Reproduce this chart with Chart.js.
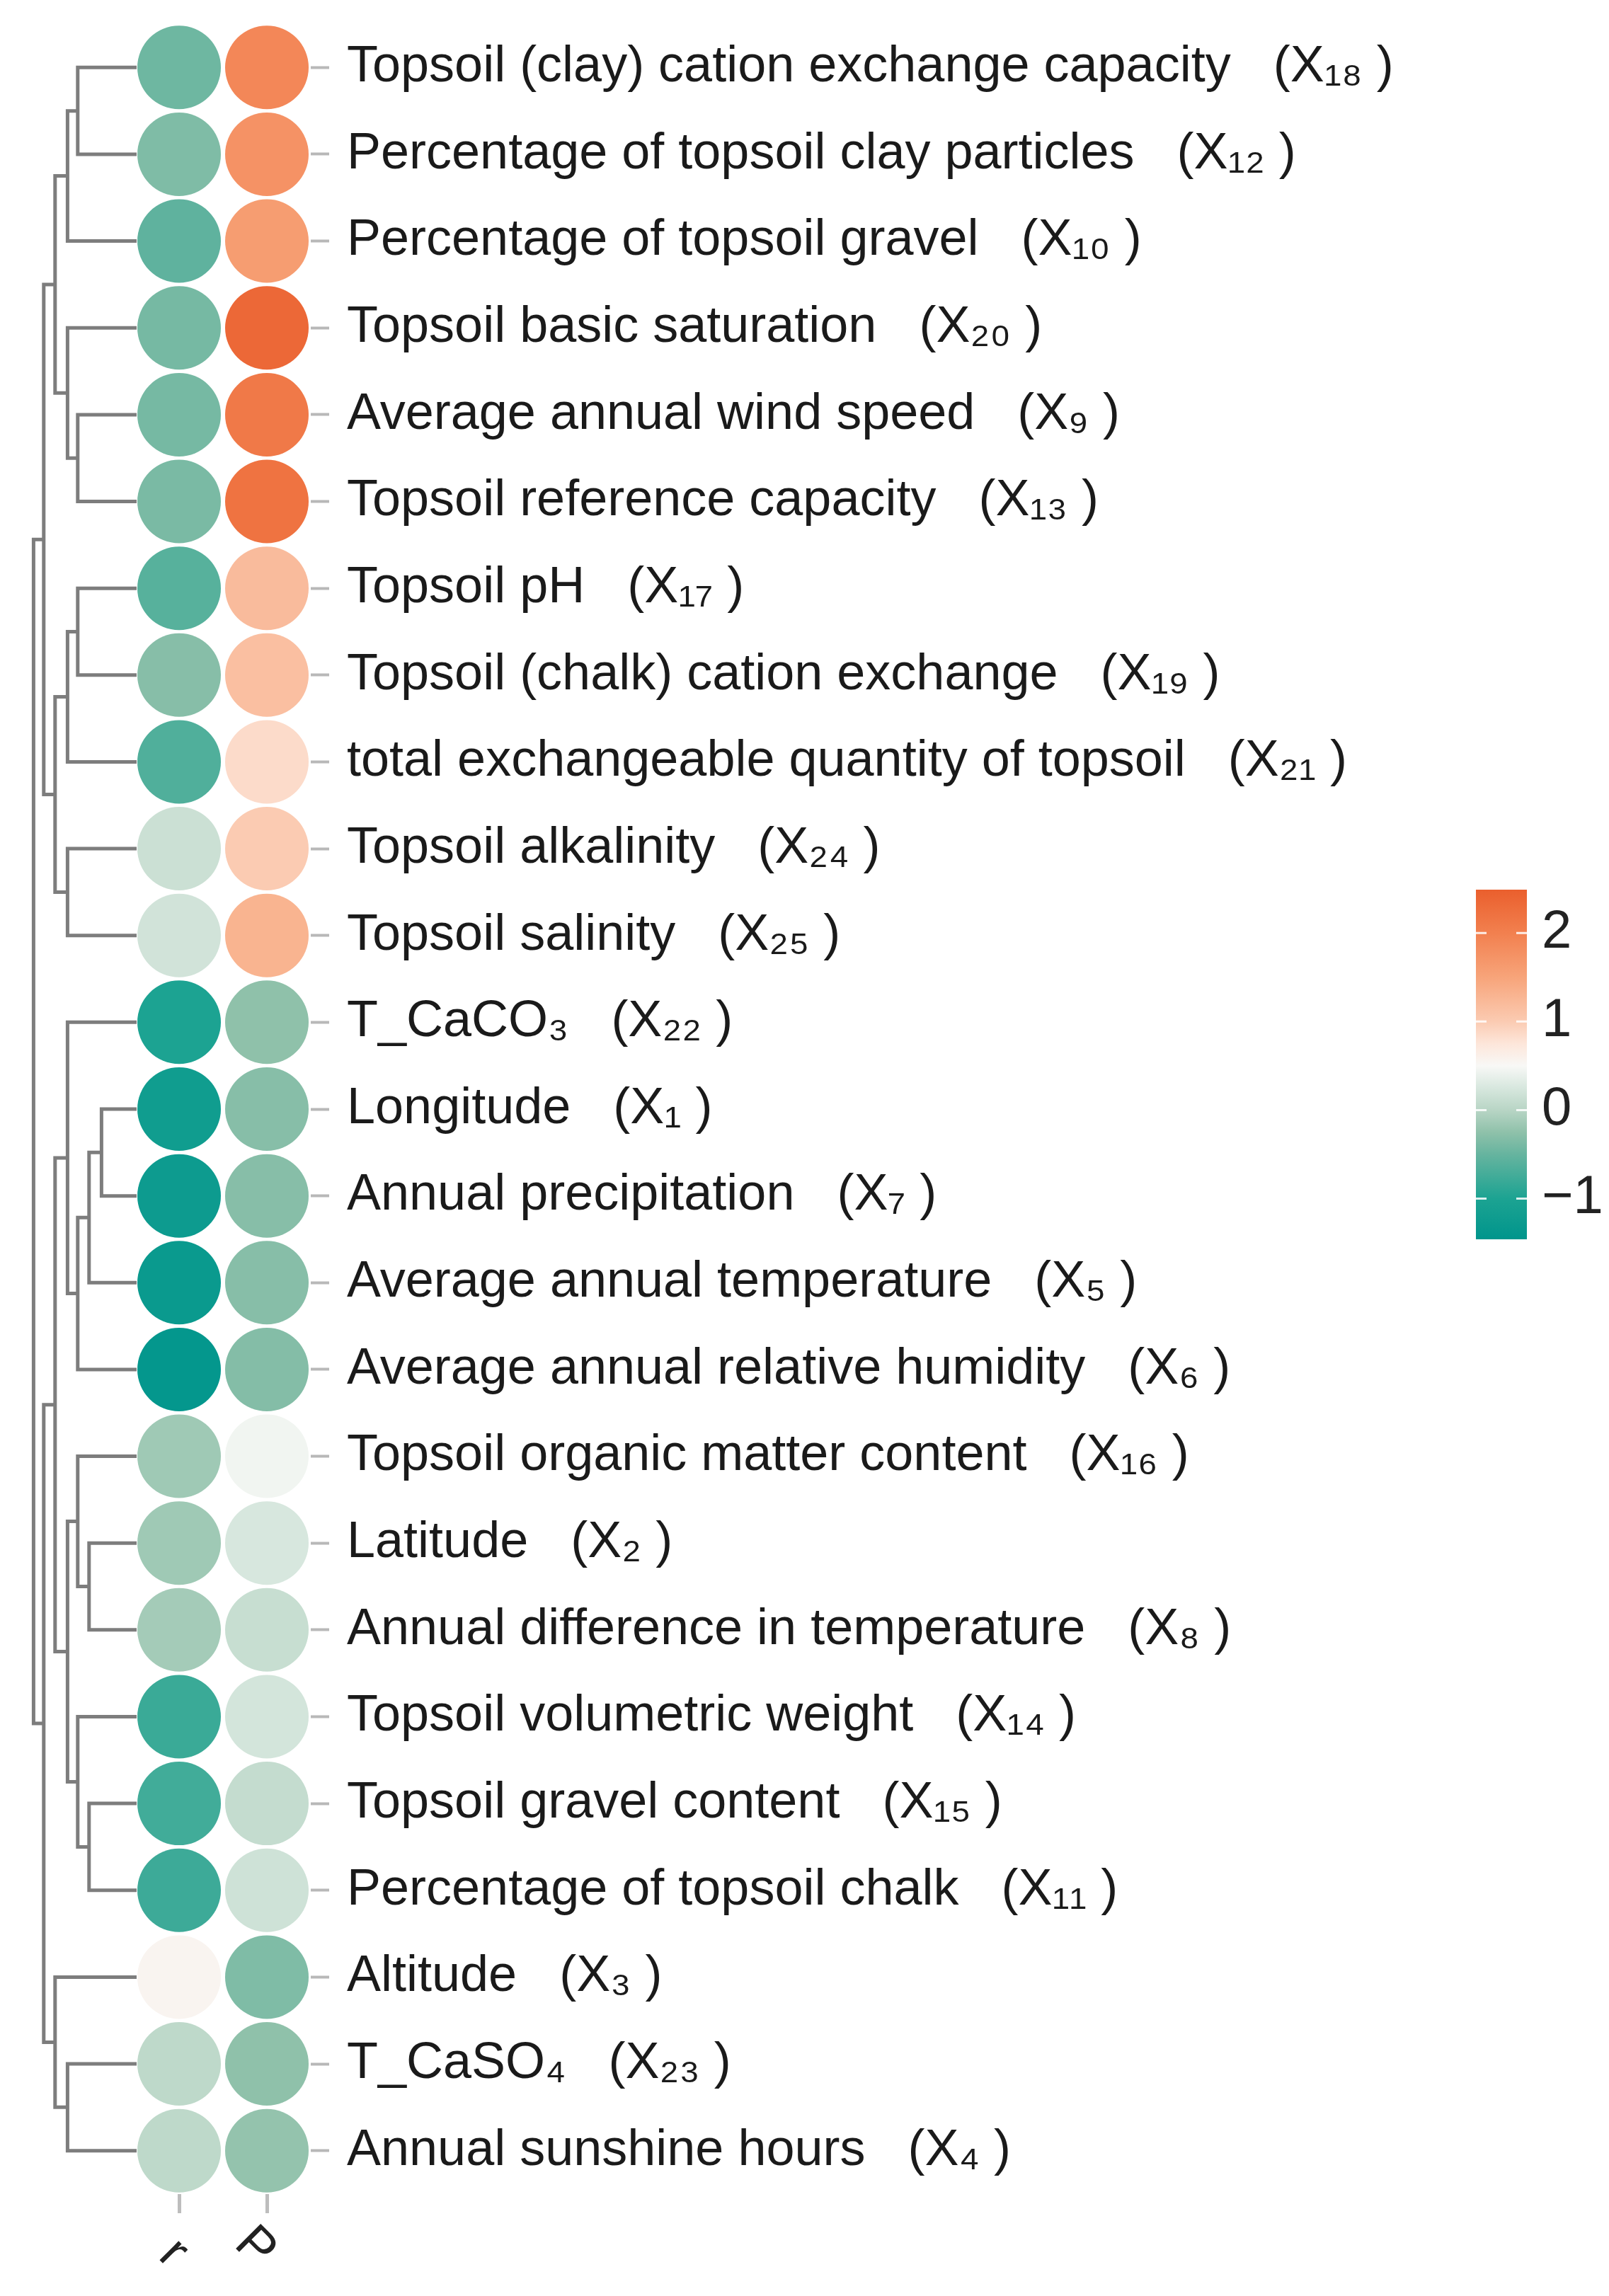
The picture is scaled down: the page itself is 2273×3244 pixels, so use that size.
<!DOCTYPE html>
<html>
<head>
<meta charset="utf-8">
<script src="https://cdn.jsdelivr.net/npm/chart.js@4.4.1/dist/chart.umd.min.js"></script>
<style>
  html, body { margin: 0; padding: 0; background: #ffffff; }
  #wrap { position: relative; width: 2273px; height: 3244px; }
  canvas { position: absolute; }
</style>
</head>
<body>
<div id="wrap">
  <canvas id="heat" width="2273" height="3244" style="left:0;top:0"></canvas>
  <canvas id="scale" width="188" height="600" style="left:2085px;top:1205px"></canvas>
</div>
<script>
const FONT = "'Liberation Sans', Arial, sans-serif";

// rows, top to bottom
const variables = [
  'Topsoil (clay) cation exchange capacity', 'Percentage of topsoil clay particles',
  'Percentage of topsoil gravel', 'Topsoil basic saturation', 'Average annual wind speed',
  'Topsoil reference capacity', 'Topsoil pH', 'Topsoil (chalk) cation exchange',
  'total exchangeable quantity of topsoil', 'Topsoil alkalinity', 'Topsoil salinity',
  'T_CaCO\u2083', 'Longitude', 'Annual precipitation', 'Average annual temperature',
  'Average annual relative humidity', 'Topsoil organic matter content', 'Latitude',
  'Annual difference in temperature', 'Topsoil volumetric weight', 'Topsoil gravel content',
  'Percentage of topsoil chalk', 'Altitude', 'T_CaSO\u2084', 'Annual sunshine hours'
];
const codes = [
  'X\u2081\u2088', 'X\u2081\u2082', 'X\u2081\u2080', 'X\u2082\u2080', 'X\u2089',
  'X\u2081\u2083', 'X\u2081\u2087', 'X\u2081\u2089', 'X\u2082\u2081', 'X\u2082\u2084',
  'X\u2082\u2085', 'X\u2082\u2082', 'X\u2081', 'X\u2087', 'X\u2085',
  'X\u2086', 'X\u2081\u2086', 'X\u2082', 'X\u2088', 'X\u2081\u2084',
  'X\u2081\u2085', 'X\u2081\u2081', 'X\u2083', 'X\u2082\u2083', 'X\u2084'
];
const columns = ['r', 'P'];

const rValues = [
  -0.45, -0.35, -0.55, -0.40, -0.40, -0.38, -0.60, -0.30, -0.65, 0.15, 0.20,
  -1.00, -1.20, -1.25, -1.30, -1.40, -0.15, -0.15, -0.12, -0.80, -0.75, -0.78,
  0.55, 0.05, 0.05
];
const pValues = [
  1.90, 1.75, 1.60, 2.35, 2.10, 2.20, 1.20, 1.15, 0.85, 1.00, 1.30,
  -0.25, -0.30, -0.30, -0.30, -0.32, 0.45, 0.25, 0.12, 0.22, 0.10, 0.18,
  -0.35, -0.25, -0.22
];

// hclust-style merge table: negative = leaf (row number), positive = earlier merge
const mergeA = [-1, 1, -5, -4, 2, -7, 6, -10, 7, 5, -13, 11, 12, -12, -18, -17, -21, -20, 16, 14, -24, -23, 20, 10];
const mergeB = [-2, -3, -6, 3, 4, -8, -9, -11, 8, 9, -14, -15, -16, 13, -19, 15, -22, 17, 18, 19, -25, 21, 22, 23];
const mergeHeight = [5.2, 6.1, 5.2, 6.1, 7.2, 5.2, 6.1, 6.1, 7.2, 8.2, 3.1, 4.2, 5.2, 6.1, 4.2, 5.2, 4.2, 5.2, 6.1, 7.2, 6.1, 7.2, 8.2, 9.1];

const scaleMin = -1.46;
const scaleMax = 2.49;
const scaleTicks = [-1, 0, 1, 2];
const colourStops = [
  [-1.46, '#00958c'], [-1.0, '#1ca392'], [-0.5, '#66b49f'], [-0.25, '#8fc1aa'],
  [0.0, '#b8d5c5'], [0.25, '#d7e7de'], [0.5, '#f8f8f6'], [0.75, '#fde6da'],
  [1.0, '#fbcbb2'], [1.5, '#f7a47a'], [2.0, '#f2804f'], [2.49, '#ea5f2d']
];

function hexRgb(h) {
  return [1, 3, 5].map(i => parseInt(h.slice(i, i + 2), 16));
}

function colourFor(v) {
  if (v <= colourStops[0][0]) return colourStops[0][1];
  for (let i = 1; i < colourStops.length; i++) {
    const [v1, c1] = colourStops[i];
    if (v <= v1) {
      const [v0, c0] = colourStops[i - 1];
      const t = (v - v0) / (v1 - v0);
      const a = hexRgb(c0), b = hexRgb(c1);
      const m = a.map((x, k) => Math.round(x + (b[k] - x) * t));
      return `rgb(${m[0]},${m[1]},${m[2]})`;
    }
  }
  return colourStops[colourStops.length - 1][1];
}

// keep the chart area where we put it, labels may overhang
const noPadding = s => {
  s.paddingTop = 0;
  s.paddingBottom = 0;
  s.paddingLeft = 0;
  s.paddingRight = 0;
};

// dendrogram: one bracket per merge
const nodes = [];
const place = ref => (ref < 0 ? { h: 0, y: -ref - 1 } : nodes[ref - 1]);
const dendroSets = mergeA.map((a, k) => {
  const l = place(a);
  const r = place(mergeB[k]);
  const h = mergeHeight[k];
  nodes.push({ h, y: (l.y + r.y) / 2 });
  return {
    data: [{ x: l.h, y: l.y }, { x: h, y: l.y }, { x: h, y: r.y }, { x: r.h, y: r.y }],
    xAxisID: 'xd',
    showLine: true,
    pointRadius: 0,
    borderColor: '#7d7d7d',
    borderWidth: 5,
    borderJoinStyle: 'miter',
    borderCapStyle: 'butt',
    order: 2
  };
});

const circleSet = (vals, col) => ({
  data: vals.map((v, i) => ({ x: col, y: i })),
  xAxisID: 'x',
  pointRadius: 59,
  pointHoverRadius: 59,
  pointBackgroundColor: vals.map(colourFor),
  pointBorderWidth: 0,
  clip: false,
  order: 1
});

new Chart(document.getElementById('heat'), {
  type: 'scatter',
  data: { datasets: [...dendroSets, circleSet(rValues, 0), circleSet(pValues, 1)] },
  options: {
    responsive: false,
    animation: false,
    devicePixelRatio: 1,
    events: [],
    layout: { autoPadding: false, padding: { left: 40, top: 34, right: 0, bottom: 0 } },
    plugins: { legend: { display: false }, tooltip: { enabled: false } },
    scales: {
      x: {
        type: 'linear',
        position: 'bottom',
        min: -1.718,
        max: 1.5,
        afterBuildTicks: s => { s.ticks = columns.map((_, i) => ({ value: i })); },
        afterFit: s => { s.height = 144; noPadding(s); },
        border: { display: false },
        grid: { drawOnChartArea: false, tickLength: 27, tickWidth: 5, tickColor: '#bdbdbd' },
        ticks: {
          callback: v => columns[v],
          minRotation: -45,
          maxRotation: -45,
          padding: 58,
          color: '#222222',
          font: { family: FONT, size: 72, lineHeight: 0.3 }
        }
      },
      xd: { type: 'linear', display: false, reverse: true, min: -15.375, max: 9.5625 },
      y: {
        type: 'linear',
        position: 'right',
        reverse: true,
        min: -0.5,
        max: variables.length - 0.5,
        afterBuildTicks: s => { s.ticks = variables.map((_, i) => ({ value: i })); },
        afterFit: s => { s.width = 1834; noPadding(s); },
        border: { display: false },
        grid: { drawOnChartArea: false, tickLength: 26, tickWidth: 4, tickColor: '#b8b8b8' },
        ticks: {
          autoSkip: false,
          padding: 25,
          color: '#1a1a1a',
          font: { family: FONT, size: 72 },
          callback: v => variables[v] + '   (' + codes[v] + ' )'
        }
      }
    }
  }
});

function barGradient(chart) {
  const { ctx, chartArea, scales } = chart;
  if (!chartArea) return colourStops[0][1];
  const y = scales.y;
  const g = ctx.createLinearGradient(0, y.getPixelForValue(scaleMin), 0, y.getPixelForValue(scaleMax));
  colourStops.forEach(([v, c]) => g.addColorStop((v - scaleMin) / (scaleMax - scaleMin), c));
  return g;
}

const tickMarks = {
  id: 'tickMarks',
  afterDatasetsDraw(chart) {
    const { ctx, chartArea: a, scales: { y } } = chart;
    ctx.save();
    ctx.strokeStyle = 'rgba(255,255,255,0.85)';
    ctx.lineWidth = 3;
    scaleTicks.forEach(v => {
      const py = y.getPixelForValue(v);
      ctx.beginPath();
      ctx.moveTo(a.left, py);
      ctx.lineTo(a.left + 15, py);
      ctx.moveTo(a.right - 15, py);
      ctx.lineTo(a.right, py);
      ctx.stroke();
    });
    ctx.restore();
  }
};

new Chart(document.getElementById('scale'), {
  type: 'bar',
  data: {
    labels: [''],
    datasets: [{
      data: [[scaleMin, scaleMax]],
      backgroundColor: ctx => barGradient(ctx.chart),
      borderWidth: 0,
      barPercentage: 1,
      categoryPercentage: 1
    }]
  },
  options: {
    responsive: false,
    animation: false,
    devicePixelRatio: 1,
    events: [],
    layout: { autoPadding: false, padding: { top: 52, bottom: 54, left: 0, right: 0 } },
    plugins: { legend: { display: false }, tooltip: { enabled: false } },
    scales: {
      x: { display: false },
      y: {
        position: 'right',
        min: scaleMin,
        max: scaleMax,
        afterBuildTicks: s => { s.ticks = scaleTicks.map(v => ({ value: v })); },
        afterFit: s => { s.width = 116; noPadding(s); },
        border: { display: false },
        grid: { display: false, drawTicks: false },
        ticks: {
          padding: 21,
          color: '#222222',
          font: { family: FONT, size: 76 },
          callback: v => (v < 0 ? '\u2212' + Math.abs(v) : String(v))
        }
      }
    }
  },
  plugins: [tickMarks]
});
</script>
</body>
</html>
